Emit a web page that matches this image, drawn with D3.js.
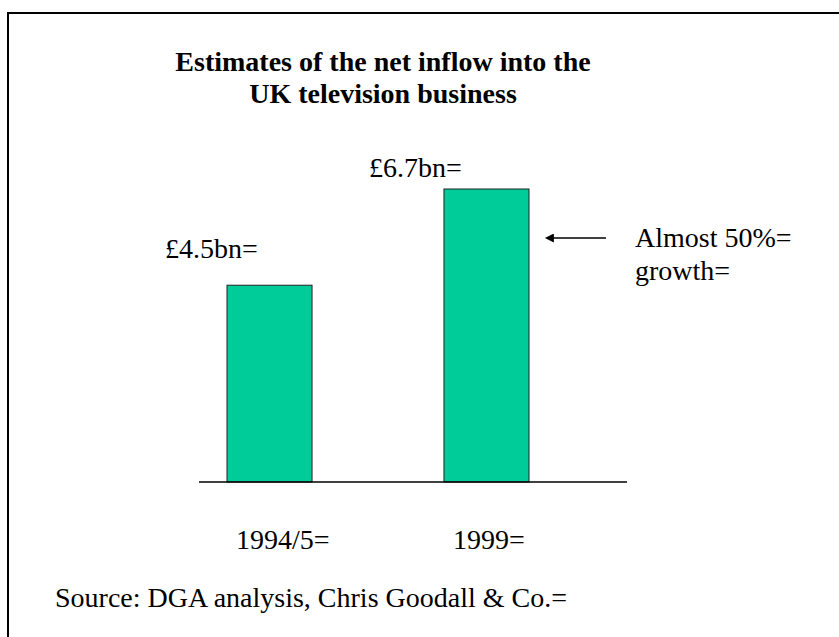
<!DOCTYPE html>
<html>
<head>
<meta charset="utf-8">
<script src="https://cdn.jsdelivr.net/npm/d3@7"></script>
<style>
  body { margin: 0; background: #fff; }
</style>
</head>
<body>
<svg id="chart" width="839" height="637"></svg>
<script>
// DATA
const periods = ["1994/5=", "1999="];
const values = [4.5, 6.7];
const valueLabels = ["£4.5bn=", "£6.7bn="];
const titleLines = ["Estimates of the net inflow into the", "UK television business"];
const noteLines = ["Almost 50%=", "growth="];
const sourceText = "Source: DGA analysis, Chris Goodall & Co.=";

// layout tweaks for the value labels (they sit left of each bar, at different heights)
const labelDx = [-62, -75];
const labelDy = [-27, -12];
const serif = "'Liberation Serif', 'Times New Roman', serif";

const svg = d3.select("#chart");

// frame (runs off the right and bottom edges)
svg.append("rect")
    .attr("x", 8).attr("y", 13)
    .attr("width", 860).attr("height", 660)
    .attr("fill", "none")
    .attr("stroke", "#000")
    .attr("stroke-width", 2);

// title
svg.append("text")
    .attr("text-anchor", "middle")
    .style("font-family", serif)
    .style("font-size", "28px")
    .style("font-weight", "bold")
    .selectAll("tspan")
    .data(titleLines)
    .enter().append("tspan")
    .attr("x", 383)
    .attr("y", (d, i) => 71 + i * 32)
    .text(d => d);

// scales
const baseY = 482;
const xScale = d3.scaleBand()
    .domain(periods)
    .range([199, 557])
    .paddingInner(0.608)
    .paddingOuter(0.129);

const yScale = d3.scaleLinear()
    .domain([0, 6.7])
    .range([baseY, 189]);

// bars
svg.selectAll(".bar")
    .data(values)
    .enter().append("rect")
    .attr("class", "bar")
    .attr("x", (d, i) => xScale(periods[i]))
    .attr("y", d => yScale(d))
    .attr("width", xScale.bandwidth())
    .attr("height", d => baseY - yScale(d))
    .attr("fill", "#00CC99")
    .attr("stroke", "#222")
    .attr("stroke-width", 1);

// baseline
svg.append("line")
    .attr("x1", 199).attr("x2", 627)
    .attr("y1", baseY).attr("y2", baseY)
    .attr("stroke", "#000")
    .attr("stroke-width", 1.5);

// value labels above bars
svg.selectAll(".val")
    .data(values)
    .enter().append("text")
    .attr("class", "val")
    .attr("x", (d, i) => xScale(periods[i]) + labelDx[i])
    .attr("y", (d, i) => yScale(d) + labelDy[i])
    .style("font-family", serif)
    .style("font-size", "28px")
    .text((d, i) => valueLabels[i]);

// category labels
svg.selectAll(".cat")
    .data(periods)
    .enter().append("text")
    .attr("class", "cat")
    .attr("x", d => xScale(d) + 9)
    .attr("y", 549)
    .style("font-family", serif)
    .style("font-size", "28px")
    .text(d => d);

// arrow
svg.append("defs").append("marker")
    .attr("id", "arrowhead")
    .attr("viewBox", "0 0 10 10")
    .attr("refX", 1).attr("refY", 5)
    .attr("markerWidth", 8).attr("markerHeight", 6)
    .attr("orient", "auto-start-reverse")
    .append("path")
    .attr("d", "M0,0 L10,5 L0,10 Z")
    .attr("fill", "#000");

svg.append("line")
    .attr("x1", 553).attr("y1", 238)
    .attr("x2", 606).attr("y2", 238)
    .attr("stroke", "#000")
    .attr("stroke-width", 1.5)
    .attr("marker-start", "url(#arrowhead)");

// note
svg.append("text")
    .style("font-family", serif)
    .style("font-size", "28px")
    .selectAll("tspan")
    .data(noteLines)
    .enter().append("tspan")
    .attr("x", 635)
    .attr("y", (d, i) => 247 + i * 33)
    .text(d => d);

// source
svg.append("text")
    .attr("x", 55).attr("y", 607)
    .style("font-family", serif)
    .style("font-size", "28px")
    .text(sourceText);
</script>
</body>
</html>
